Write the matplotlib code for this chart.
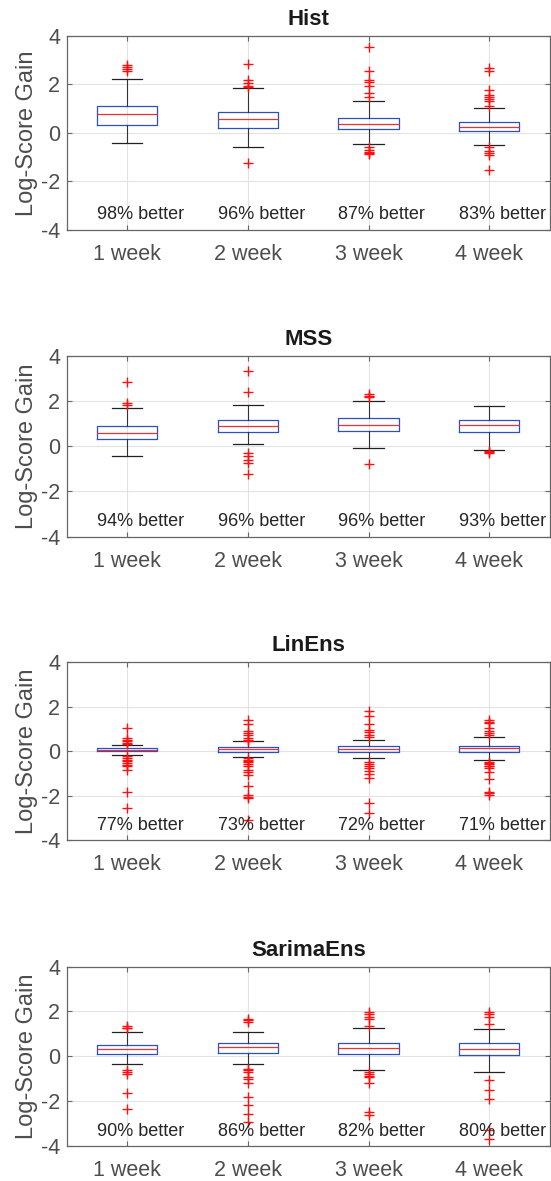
import matplotlib
matplotlib.use("Agg")
import matplotlib.pyplot as plt

plt.rcParams['font.family'] = ['Liberation Sans', 'DejaVu Sans']
plt.rcParams['axes.unicode_minus'] = False

categories = ["1 week", "2 week", "3 week", "4 week"]
titles = ["Hist", "MSS", "LinEns", "SarimaEns"]

# ---- Hist ----
hist_med = [0.77, 0.58, 0.37, 0.26]
hist_q1 = [0.32, 0.21, 0.15, 0.07]
hist_q3 = [1.11, 0.85, 0.63, 0.45]
hist_lo = [-0.40, -0.60, -0.45, -0.48]
hist_hi = [2.21, 1.84, 1.31, 1.02]
hist_fliers = [
    [2.55, 2.62, 2.70, 2.78],
    [2.83, 2.19, 2.05, 1.92, 1.87, -1.25],
    [3.52, 2.53, 2.19, 2.10, 1.94, 1.64, 1.47, -0.58, -0.70, -0.77, -0.82, -0.87],
    [2.67, 2.53, 1.75, 1.55, 1.46, 1.38, 1.30, 1.09, -0.60, -0.73, -0.85, -0.91, -1.53],
]
hist_pct = [98, 96, 87, 83]

# ---- MSS ----
mss_med = [0.57, 0.89, 0.92, 0.95]
mss_q1 = [0.31, 0.61, 0.67, 0.62]
mss_q3 = [0.88, 1.16, 1.23, 1.17]
mss_lo = [-0.43, 0.09, -0.06, -0.18]
mss_hi = [1.70, 1.84, 1.98, 1.77]
mss_fliers = [
    [2.84, 1.89, 1.81],
    [3.33, 2.39, -0.28, -0.43, -0.61, -0.76, -1.25],
    [2.29, 2.22, 2.18, -0.77],
    [-0.21, -0.25, -0.29],
]
mss_pct = [94, 96, 96, 93]

# ---- LinEns ----
lin_med = [0.06, 0.09, 0.11, 0.12]
lin_q1 = [0.00, -0.02, -0.05, -0.05]
lin_q3 = [0.12, 0.18, 0.21, 0.23]
lin_lo = [-0.17, -0.27, -0.30, -0.41]
lin_hi = [0.27, 0.44, 0.51, 0.62]
lin_fliers = [
    [1.04, 0.59, 0.50, 0.44, 0.36, 0.31, -0.24, -0.30, -0.39, -0.46, -0.54, -0.62,
     -0.69, -0.84, -1.85, -2.57],
    [1.41, 1.20, 0.89, 0.80, 0.74, 0.59, 0.51, 0.47, -0.32, -0.39, -0.45, -0.51,
     -0.58, -0.65, -0.84, -0.95, -1.07, -1.56, -1.97, -2.05, -2.12, -3.10],
    [1.79, 1.56, 1.23, 0.96, 0.86, 0.71, 0.63, -0.47, -0.58, -0.65, -0.77, -0.89,
     -1.02, -1.22, -2.35, -2.80],
    [1.41, 1.33, 1.26, 1.04, 0.90, 0.81, 0.72, -0.47, -0.54, -0.60, -0.65, -0.69,
     -0.75, -0.92, -1.26, -1.82, -1.90, -1.97],
]
lin_pct = [77, 73, 72, 71]

# ---- SarimaEns ----
sar_med = [0.30, 0.39, 0.36, 0.34]
sar_q1 = [0.12, 0.16, 0.09, 0.06]
sar_q3 = [0.51, 0.57, 0.57, 0.57]
sar_lo = [-0.37, -0.33, -0.61, -0.70]
sar_hi = [1.06, 1.09, 1.28, 1.22]
sar_fliers = [
    [1.35, 1.28, 1.24, -0.63, -0.70, -0.78, -1.64, -2.34],
    [1.66, 1.60, 1.55, -0.55, -0.62, -0.70, -0.93, -1.04, -1.22, -1.82, -2.19,
     -2.57, -2.94],
    [1.99, 1.87, 1.76, 1.66, 1.34, -0.70, -0.81, -0.88, -0.93, -1.18, -2.49, -2.64],
    [1.99, 1.87, 1.76, 1.46, -1.07, -1.49, -1.90, -3.28, -3.69],
]
sar_pct = [90, 86, 82, 80]

panels = [
    (hist_med, hist_q1, hist_q3, hist_lo, hist_hi, hist_fliers, hist_pct),
    (mss_med, mss_q1, mss_q3, mss_lo, mss_hi, mss_fliers, mss_pct),
    (lin_med, lin_q1, lin_q3, lin_lo, lin_hi, lin_fliers, lin_pct),
    (sar_med, sar_q1, sar_q3, sar_lo, sar_hi, sar_fliers, sar_pct),
]

W, H = 551, 1181
fig = plt.figure(figsize=(W / 100, H / 100), dpi=100)
fig.patch.set_facecolor('white')

# axes pixel boxes: (top, bottom)
ax_px = [(35.7, 230.0), (355.7, 536.7), (662.3, 840.0), (966.7, 1145.7)]
left_px, right_px = 67.0, 549.5

tick_color = '#4d4d4d'
axis_color = '#666666'

for (top, bot), title, (med, q1, q3, lo, hi, fl, pct) in zip(ax_px, titles, panels):
    ax = fig.add_axes([left_px / W, 1 - bot / H, (right_px - left_px) / W, (bot - top) / H])
    stats = []
    for i in range(len(categories)):
        stats.append(dict(med=med[i], q1=q1[i], q3=q3[i], whislo=lo[i], whishi=hi[i],
                          fliers=fl[i], label=categories[i]))
    ax.bxp(stats, positions=range(1, len(categories) + 1), widths=0.5,
           showfliers=True,
           boxprops=dict(color='#2b4fc4', linewidth=0.9),
           medianprops=dict(color='#f03030', linewidth=0.9),
           whiskerprops=dict(color='#333333', linewidth=0.8),
           capprops=dict(color='#222222', linewidth=0.9),
           capwidths=0.25,
           flierprops=dict(marker='+', markeredgecolor='#ff1010', markersize=7.5,
                           markeredgewidth=1.0, linestyle='none'),
           zorder=3)
    ax.set_xlim(0.5, 4.5)
    ax.set_ylim(-4, 4)
    ax.set_yticks([-4, -2, 0, 2, 4])
    ax.set_xticks(range(1, 5))
    ax.set_xticklabels(categories)
    ax.grid(True, color='#e3e3e3', linewidth=0.8, zorder=0)
    ax.set_axisbelow(True)
    ax.tick_params(direction='in', length=3.5, width=0.8, colors=axis_color,
                   labelcolor=tick_color, labelsize=15.5, top=True, right=True)
    ax.tick_params(axis='x', pad=10)
    ax.tick_params(axis='y', pad=5)
    for sp in ax.spines.values():
        sp.set_color(axis_color)
        sp.set_linewidth(0.9)
    ax.set_ylabel("Log-Score Gain", fontsize=17, color=tick_color, labelpad=2)
    ax.set_title(title, fontsize=16, fontweight='bold', color='#1a1a1a', pad=8)
    for i, p in enumerate(pct):
        ax.text(i + 1 - 0.25, -3.35, f"{p}% better", ha='left', va='center',
                fontsize=13, color='#262626', zorder=4)

fig.savefig("out.png", dpi=100, facecolor='white')
